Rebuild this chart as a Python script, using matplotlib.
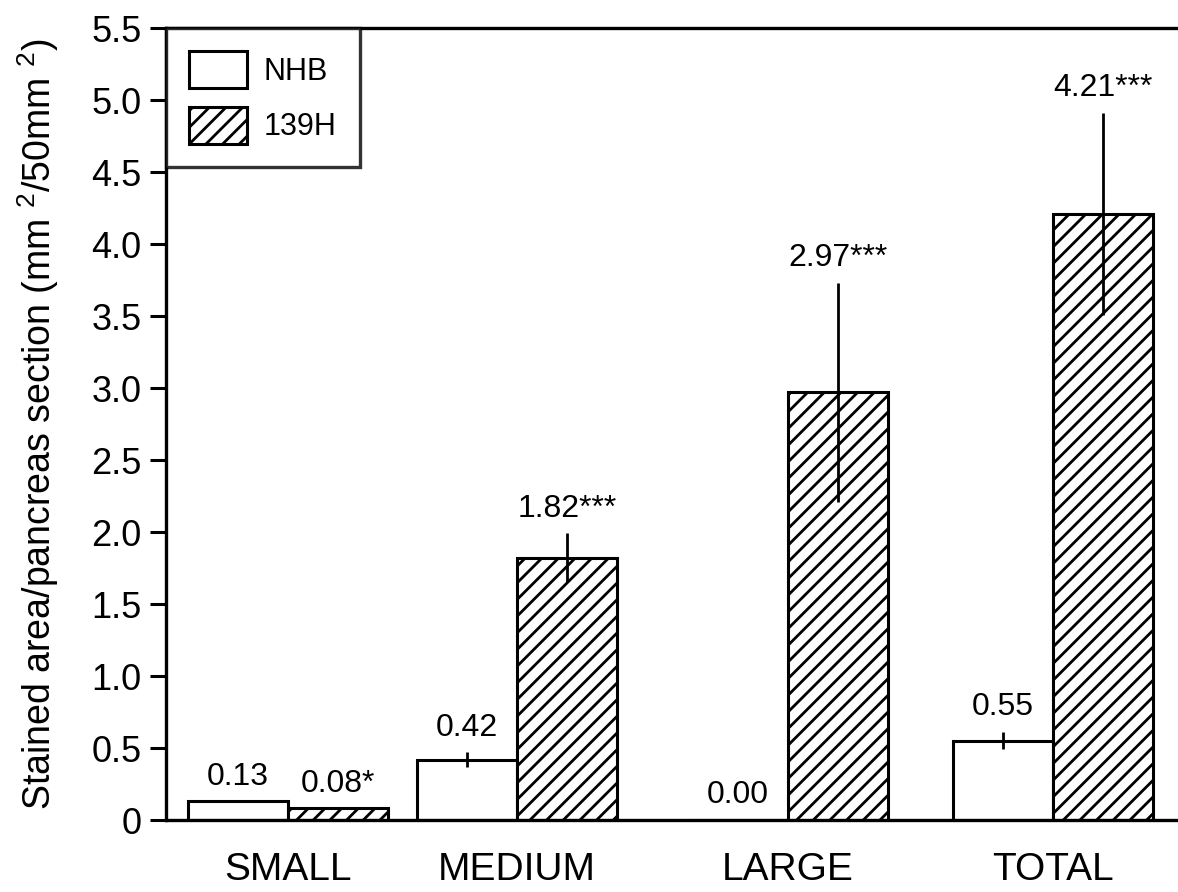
import matplotlib
matplotlib.use("Agg")
import matplotlib.pyplot as plt
from matplotlib.patches import Patch
import numpy as np

# ---- data ----
categories = ["SMALL", "MEDIUM", "LARGE", "TOTAL"]
series_names = ["NHB", "139H"]
nhb_values = [0.13, 0.42, 0.00, 0.55]
nhb_errors = [0.0, 0.05, 0.0, 0.06]
h139_values = [0.08, 1.82, 2.97, 4.21]
h139_errors = [0.0, 0.17, 0.76, 0.70]
nhb_labels = ["0.13", "0.42", "0.00", "0.55"]
h139_labels = ["0.08*", "1.82***", "2.97***", "4.21***"]
ytick_values = [0, 0.5, 1.0, 1.5, 2.0, 2.5, 3.0, 3.5, 4.0, 4.5, 5.0, 5.5]
ytick_labels = ["0", "0.5", "1.0", "1.5", "2.0", "2.5", "3.0", "3.5", "4.0", "4.5", "5.0", "5.5"]

# ---- layout ----
group_pos = np.array([0.0, 0.898, 1.96, 3.0])
bar_w = 0.392

plt.rcParams["font.family"] = ["Liberation Sans", "DejaVu Sans"]
plt.rcParams["mathtext.fontset"] = "custom"
plt.rcParams["mathtext.rm"] = "Liberation Sans"
plt.rcParams["mathtext.it"] = "Liberation Sans"
plt.rcParams["mathtext.bf"] = "Liberation Sans:bold"
plt.rcParams["hatch.linewidth"] = 2.0
plt.rcParams["hatch.color"] = "black"

W, H = 1178, 892
fig = plt.figure(figsize=(W / 100, H / 100), dpi=100)
ax = fig.add_axes([166 / W, (H - 820) / H, 1 - 166 / W, (820 - 28) / H])

ax.bar(group_pos - bar_w / 2, nhb_values, width=bar_w, color="white",
       edgecolor="black", linewidth=2.2, zorder=2)
ax.bar(group_pos + bar_w / 2, h139_values, width=bar_w, color="white",
       edgecolor="black", linewidth=2.2, hatch="//", zorder=2)

for x, v, e in zip(group_pos - bar_w / 2, nhb_values, nhb_errors):
    if e > 0:
        ax.errorbar(x, v, yerr=e, fmt="none", ecolor="black", elinewidth=2.0,
                    capsize=0, zorder=3)
for x, v, e in zip(group_pos + bar_w / 2, h139_values, h139_errors):
    if e > 0:
        ax.errorbar(x, v, yerr=e, fmt="none", ecolor="black", elinewidth=2.0,
                    capsize=0, zorder=3)


def add_label(x, v, e, text):
    ax.annotate(text, (x, v + e), xytext=(0, 7), textcoords="offset points",
                ha="center", va="bottom", fontsize=23, zorder=4)


for x, v, e, t in zip(group_pos - bar_w / 2, nhb_values, nhb_errors, nhb_labels):
    add_label(x, v, e, t)
for x, v, e, t in zip(group_pos + bar_w / 2, h139_values, h139_errors, h139_labels):
    add_label(x, v, e, t)

ax.set_ylim(0, 5.5)
ax.set_xlim(-0.478, 3.49)
ax.set_yticks(ytick_values)
ax.set_yticklabels(ytick_labels, fontsize=26)
ax.set_xticks(group_pos)
ax.set_xticklabels(categories, fontsize=28)
ax.tick_params(axis="x", length=0, pad=23)
ax.tick_params(axis="y", direction="out", length=11.5, width=2.2, pad=6)

for side in ["top", "bottom", "left"]:
    ax.spines[side].set_linewidth(2.4)
ax.spines["right"].set_visible(False)

ax.set_ylabel("Stained area/pancreas section (mm $^2$/50mm $^2$)", fontsize=27,
              labelpad=22)

handles = [Patch(facecolor="white", edgecolor="black", linewidth=2.2),
           Patch(facecolor="white", edgecolor="black", linewidth=2.2, hatch="//")]
leg = ax.legend(handles, series_names, loc="upper left", fontsize=22,
                frameon=True, fancybox=False, borderaxespad=0,
                handlelength=1.9, handleheight=1.5, handletextpad=0.55,
                labelspacing=0.6, borderpad=0.75)
leg.get_frame().set_edgecolor("black")
leg.get_frame().set_linewidth(2.4)

fig.savefig("out.png", dpi=100)
